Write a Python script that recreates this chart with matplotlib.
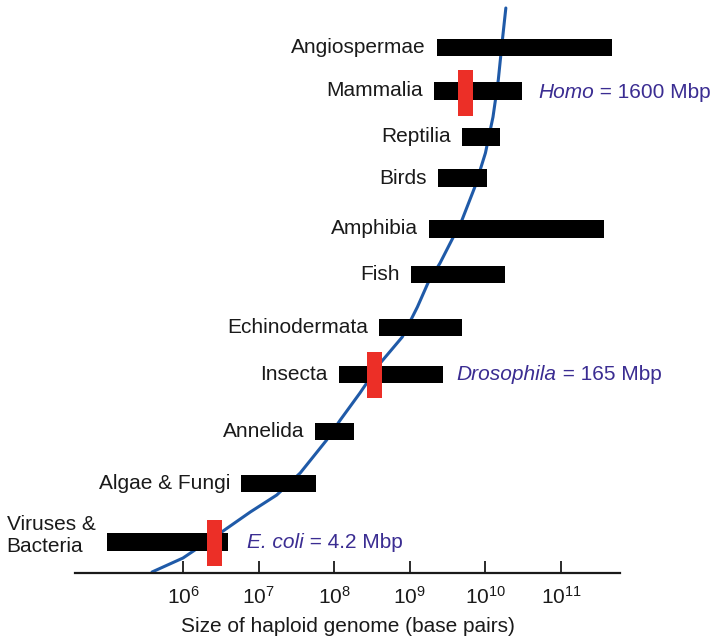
import matplotlib
matplotlib.use("Agg")
import numpy as np
import matplotlib.pyplot as plt
from matplotlib.ticker import NullLocator

# Genome size ranges, log10(base pairs)
categories = ["Angiospermae", "Mammalia", "Reptilia", "Birds", "Amphibia", "Fish",
              "Echinodermata", "Insecta", "Annelida", "Algae & Fungi", "Viruses &\nBacteria"]
row_pos = [47.5, 91, 137, 178, 229, 274.5, 327.5, 374.5, 431.5, 483.5, 542]
log_min = [9.36, 9.32, 9.69, 9.37, 9.25, 9.02, 8.59, 8.06, 7.75, 6.77, 4.99]
log_max = [11.67, 10.48, 10.19, 10.02, 11.57, 10.26, 9.69, 9.44, 8.26, 7.76, 6.60]

# Model organisms (red marks)
organisms = ["E. coli", "Drosophila", "Homo"]
organism_mbp = ["4.2", "165", "1600"]
organism_log = [6.42, 8.53, 9.74]
organism_row = [543, 374.5, 92.5]

# Blue trend curve
curve_log = [5.59, 6.00, 6.53, 6.89, 7.24, 7.55, 7.90, 8.08, 8.34, 8.61, 8.90,
             9.10, 9.24, 9.40, 9.69, 9.86, 10.00, 10.10, 10.17, 10.22, 10.27]
curve_row = [572, 558, 531, 512, 495, 473, 440, 420, 393, 363, 337,
             307, 283, 263, 220, 187, 153, 117, 80, 43, 8]

tick_exp = [6, 7, 8, 9, 10, 11]

plt.rcParams["font.family"] = ["Liberation Sans", "DejaVu Sans"]
plt.rcParams["mathtext.fontset"] = "custom"
plt.rcParams["mathtext.rm"] = "Liberation Sans"
plt.rcParams["mathtext.it"] = "Liberation Sans:italic"

RED = "#ec2f27"
BLUE = "#1f5aa8"
PURPLE = "#3b2d92"
FS = 15

fig = plt.figure(figsize=(7.16, 6.39), dpi=100, facecolor="white")
ax = fig.add_axes([75 / 716, 66 / 639, 545 / 716, 573 / 639])
ax.set_xscale("log")
ax.set_xlim(10 ** 4.571, 10 ** 11.78)
ax.set_ylim(573, 0)

# curve (drawn behind the bars)
ax.plot(10 ** np.array(curve_log), curve_row, color=BLUE, lw=2.2, zorder=1,
        solid_capstyle="round", solid_joinstyle="round")

lo = 10 ** np.array(log_min)
hi = 10 ** np.array(log_max)
ax.barh(row_pos, hi - lo, left=lo, height=17.5, color="black", zorder=2)

for name, y, x0 in zip(categories, row_pos, lo):
    dy = 5 if "\n" in name else 0
    ax.annotate(name, xy=(x0, y), xytext=(-8, dy), textcoords="offset points",
                ha="right", va="center", fontsize=FS, multialignment="left",
                color="#1a1a1a", annotation_clip=False)

# red marks + labels
label_log = [6.85, 9.62, 10.70]
half_w = 0.1
for org, mbp, c, y, lx in zip(organisms, organism_mbp, organism_log, organism_row, label_log):
    ax.barh(y, 10 ** (c + half_w) - 10 ** (c - half_w), left=10 ** (c - half_w),
            height=46, color=RED, zorder=3)
    t = ax.text(10 ** lx, y, org, ha="left", va="center", style="italic",
                fontsize=FS, color=PURPLE, clip_on=False)
    ax.annotate(f" = {mbp} Mbp", xy=(1, 0), xycoords=t, ha="left", va="bottom",
                fontsize=FS, color=PURPLE, annotation_clip=False)

ax.set_xticks([10.0 ** e for e in tick_exp])
ax.set_xticklabels([rf"$10^{{{e}}}$" for e in tick_exp], fontsize=FS)
ax.xaxis.set_minor_locator(NullLocator())
ax.tick_params(axis="x", direction="in", length=8.6, width=1.3, pad=9, colors="#1a1a1a")
ax.set_yticks([])
for side in ["left", "top", "right"]:
    ax.spines[side].set_visible(False)
ax.spines["bottom"].set_linewidth(1.6)
ax.spines["bottom"].set_color("#1a1a1a")

fig.text(347.5 / 716, 1 - 627 / 639, "Size of haploid genome (base pairs)",
         ha="center", va="center", fontsize=FS, color="#1a1a1a")

fig.savefig("out.png", dpi=100, facecolor="white")
